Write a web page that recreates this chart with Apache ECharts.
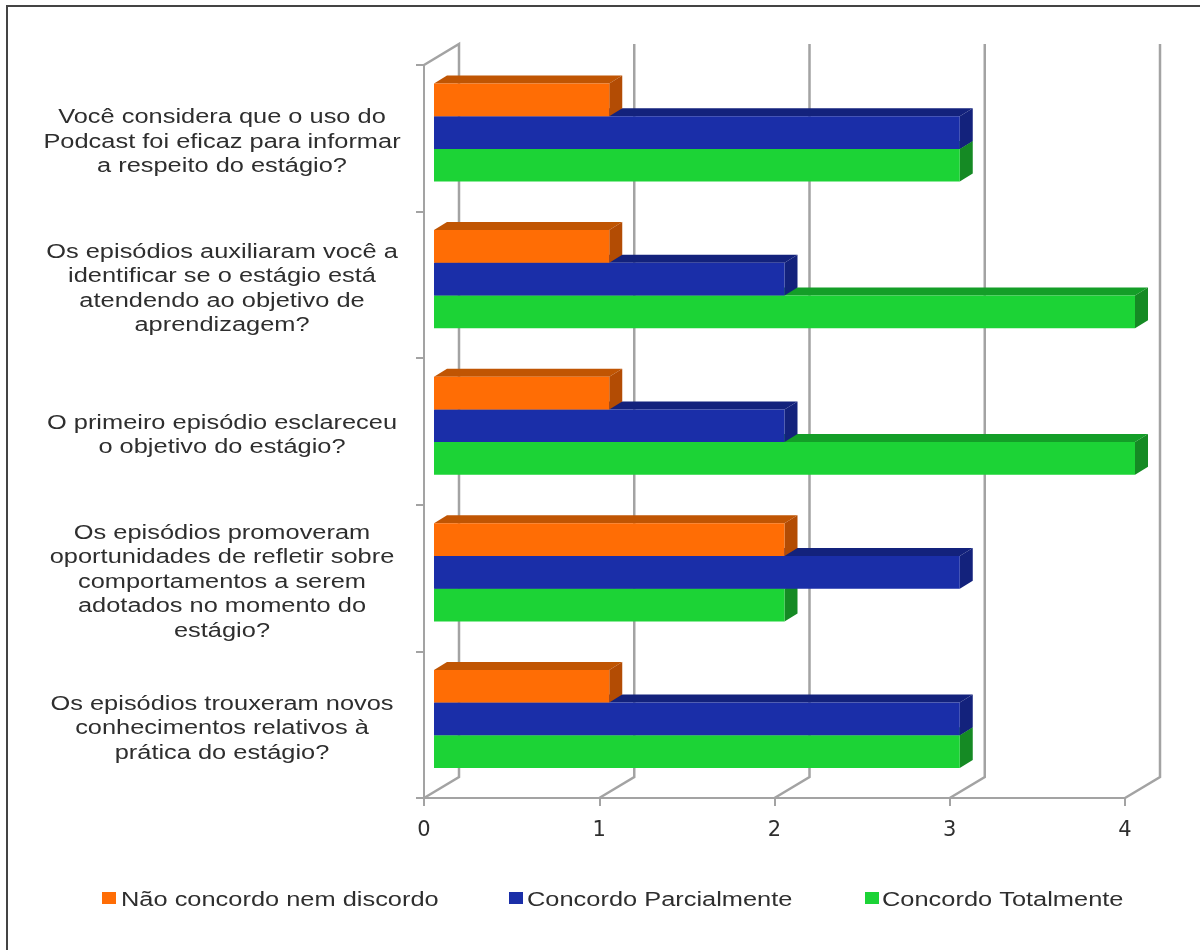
<!DOCTYPE html>
<html><head><meta charset="utf-8">
<style>html,body{margin:0;padding:0;background:#fff}#c{width:1200px;height:950px}</style>
<script src="https://cdn.jsdelivr.net/npm/echarts@6/dist/echarts.min.js"></script>
</head><body><div id="c"></div>
<script>
const categories = [
 "Você considera que o uso do\nPodcast foi eficaz para informar\na respeito do estágio?",
 "Os episódios auxiliaram você a\nidentificar se o estágio está\natendendo ao objetivo de\naprendizagem?",
 "O primeiro episódio esclareceu\no objetivo do estágio?",
 "Os episódios promoveram\noportunidades de refletir sobre\ncomportamentos a serem\nadotados no momento do\nestágio?",
 "Os episódios trouxeram novos\nconhecimentos relativos à\nprática do estágio?"
];
const naoConcordo = [1, 1, 1, 2, 1];
const parcialmente = [3, 2, 2, 3, 3];
const totalmente = [3, 4, 4, 2, 3];
const xTicks = [0, 1, 2, 3, 4];
const seriesNames = ['Não concordo nem discordo', 'Concordo Parcialmente', 'Concordo Totalmente'];
const seriesColors = ['#ff6d05', '#1a2ea8', '#1cd336'];

const wall = {dx: 35, dy: -21};
const bar = {inset: 10, depthX: 13, depthY: -8, top: 18.5, h: 32.7};
const grey = '#a3a3a3';
const FONT = 'Liberation Sans';
const textColor = '#2e2e2e';
const labelStretch = 1.27;
const labelCenterX = 222;

function barSeries(name, values, idx, z, front, topC, sideC) {
  return {
    name, type: 'custom', coordinateSystem: 'cartesian2d', z,
    itemStyle: {color: front},
    data: values.map((v, i) => [v, i]),
    encode: {x: 0, y: 1},
    renderItem(params, api) {
      const v = api.value(0), c = api.value(1);
      const p0 = api.coord([0, c]), p1 = api.coord([v, c]);
      const band = api.size([0, 1])[1];
      const x0 = p0[0] + bar.inset, x1 = p1[0] + bar.inset;
      const y0 = p0[1] - band / 2 + bar.top + idx * bar.h, y1 = y0 + bar.h;
      const dx = bar.depthX, dy = bar.depthY;
      return {type: 'group', children: [
        {type: 'polygon', shape: {points: [[x0,y0],[x1,y0],[x1+dx,y0+dy],[x0+dx,y0+dy]]}, style: {fill: topC}},
        {type: 'polygon', shape: {points: [[x1,y0],[x1+dx,y0+dy],[x1+dx,y1+dy],[x1,y1]]}, style: {fill: sideC}},
        {type: 'rect', shape: {x: x0, y: y0, width: x1 - x0, height: y1 - y0}, style: {fill: front}}
      ]};
    }
  };
}

const legendSlots = [[102, 121], [509, 527], [865, 882]];
const legendGraphics = [];
seriesNames.forEach((n, i) => {
  legendGraphics.push({type: 'rect', shape: {x: legendSlots[i][0], y: 892, width: 14, height: 12}, style: {fill: seriesColors[i]}});
  legendGraphics.push({type: 'text', x: legendSlots[i][1], y: 900, scaleX: labelStretch, style: {text: n, x: 0, y: 0, verticalAlign: 'middle', align: 'left', fill: textColor, font: '20px "' + FONT + '"'}});
});

const chart = echarts.init(document.getElementById('c'), null, {renderer: 'canvas'});
chart.setOption({
  animation: false,
  backgroundColor: '#fff',
  grid: {left: 424, right: 75, top: 65, bottom: 152},
  graphic: [
    {type: 'polyline', shape: {points: [[7,950],[7,6],[1200,6]]}, style: {stroke: '#444', lineWidth: 2, fill: null}},
    ...legendGraphics
  ],
  xAxis: {
    type: 'value', min: 0, max: 4, interval: 1,
    axisLine: {show: true, lineStyle: {color: grey, width: 2}},
    axisTick: {show: true, length: 8, lineStyle: {color: grey, width: 2}},
    splitLine: {show: false},
    axisLabel: {color: textColor, fontFamily: 'DejaVu Sans', fontSize: 21, margin: 22}
  },
  yAxis: {
    type: 'category', inverse: true, data: categories,
    axisLine: {show: true, lineStyle: {color: grey, width: 2}},
    axisTick: {show: true, length: 8, lineStyle: {color: grey, width: 2}},
    axisLabel: {show: false}
  },
  series: [
    {
      name: 'wall', type: 'custom', coordinateSystem: 'cartesian2d', z: 1, silent: true,
      data: xTicks.map(v => [v]), encode: {x: 0},
      renderItem(params, api) {
        const v = api.value(0);
        const cs = params.coordSys;
        const x = api.coord([v, 0])[0];
        const bottom = cs.y + cs.height, top = cs.y;
        const ls = {stroke: grey, lineWidth: 2.5, fill: null};
        const pts = [[x, bottom], [x + wall.dx, bottom + wall.dy], [x + wall.dx, top + wall.dy]];
        if (v === 0) pts.push([x, top]);
        return {type: 'polyline', shape: {points: pts}, style: ls};
      }
    },
    {
      name: 'labels', type: 'custom', coordinateSystem: 'cartesian2d', z: 5, silent: true, clip: false,
      data: categories.map((t, i) => [0, i]), encode: {y: 1},
      renderItem(params, api) {
        const i = api.value(1);
        return {type: 'text', x: labelCenterX, y: api.coord([0, i])[1] + 4, scaleX: labelStretch,
          style: {text: categories[i], x: 0, y: 0, align: 'center', verticalAlign: 'middle', lineHeight: 24.5, fill: textColor, font: '20px "' + FONT + '"'}};
      }
    },
    barSeries(seriesNames[2], totalmente, 2, 2, seriesColors[2], '#149e28', '#158a24'),
    barSeries(seriesNames[1], parcialmente, 1, 3, seriesColors[1], '#13227c', '#13227c'),
    barSeries(seriesNames[0], naoConcordo, 0, 4, seriesColors[0], '#c05503', '#b34c04')
  ]
});
</script></body></html>
